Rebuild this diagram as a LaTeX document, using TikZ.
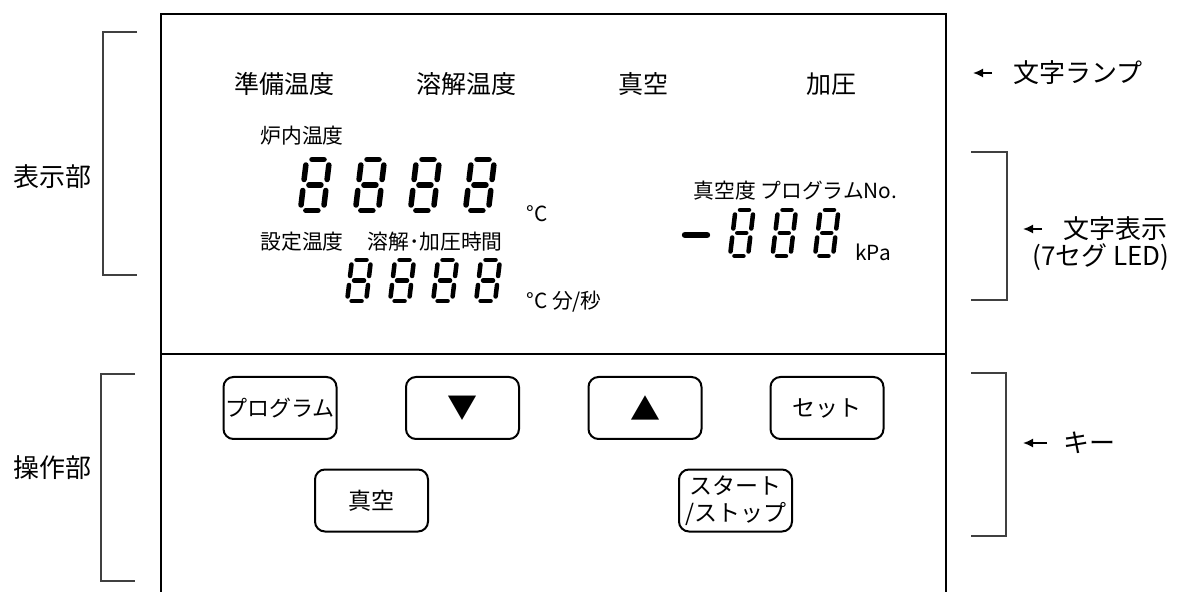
\documentclass[tikz,border=0pt]{standalone}
\usepackage{fontspec}
\setmainfont{Noto Sans CJK JP}
\usetikzlibrary{arrows.meta}

% one 7-segment digit: top-left x, top y, width, height, thickness
\newcommand{\segdigit}[5]{%
  \pgfmathsetmacro\sg{#5*1.0}%
  \pgfmathsetmacro\sw{#5*0.5}%
  \begin{scope}[shift={(#1,#2)}, xslant=0.12, line width=\sw pt, line cap=round]
    \draw (\sg,0) -- (#3-\sg,0);
    \draw (#3,\sg) -- (#3,#4/2-\sg);
    \draw (#3,#4/2+\sg) -- (#3,#4-\sg);
    \draw (\sg,#4) -- (#3-\sg,#4);
    \draw (0,#4/2+\sg) -- (0,#4-\sg);
    \draw (0,\sg) -- (0,#4/2-\sg);
    \draw (\sg,#4/2) -- (#3-\sg,#4/2);
  \end{scope}}

\begin{document}
\begin{tikzpicture}[x=0.5pt, y=-0.5pt,
    panelline/.style={line width=1pt},
    bracket/.style={line width=0.6pt, draw=black!75},
    keybox/.style={draw, line width=1pt, rounded corners=5pt,
      minimum width=56.5pt, minimum height=31pt, inner sep=0pt,
      font=\fontsize{11.5}{13.5}\selectfont, align=center},
    lamp/.style={inner sep=0pt, font=\fontsize{12.5}{14}\selectfont},
    dlabel/.style={inner sep=0pt, font=\fontsize{10.4}{12}\selectfont},
    side/.style={inner sep=0pt, font=\fontsize{13}{16}\selectfont},
    pointer/.style={-{Latex[length=5pt,width=4.5pt]}, line width=0.8pt}]

  \useasboundingbox (0,0) rectangle (1203,592);

  % panel
  \draw[panelline] (161,600) -- (161,14) -- (946,14) -- (946,600);
  \draw[panelline] (161,354) -- (946,354);

  % brackets left
  \draw[bracket] (137,32) -- (103,32) -- (103,275) -- (137,275);
  \draw[bracket] (135,374) -- (101,374) -- (101,581) -- (135,581);
  \node[side] (hyoji) at (52,177) {表示部};
  \node[side] (sosa) at (52,468) {操作部};

  % brackets right
  \draw[bracket] (971,152) -- (1007,152) -- (1007,300) -- (971,300);
  \draw[bracket] (971,373) -- (1006,373) -- (1006,536) -- (971,536);

  \node[side, anchor=west] (lamptxt) at (1013,73) {文字ランプ};
  \coordinate (lamptail) at (992,73);
  \coordinate (lamptip) at (973,73);
  \draw[pointer] (lamptail) -- (lamptip);

  \node[side, anchor=west] (segtxt) at (1063,229) {文字表示};
  \node[side, anchor=west] (ledtxt) at (1032,257) {(7セグ LED)};
  \coordinate (segtail) at (1042,229);
  \coordinate (segtip) at (1023,229);
  \draw[pointer] (segtail) -- (segtip);

  \node[side, anchor=west] (keytxt) at (1063,443) {キー};
  \coordinate (keytail) at (1047,443);
  \coordinate (keytip) at (1023,443);
  \draw[pointer] (keytail) -- (keytip);

  % lamps
  \node[lamp] (junbi) at (284,84) {準備温度};
  \node[lamp] (yokai) at (466,84) {溶解温度};
  \node[lamp] (shinku) at (643,84) {真空};
  \node[lamp] (kaatsu) at (831,84) {加圧};

  % display labels
  \node[dlabel, anchor=west] (ronai) at (260,136) {炉内温度};
  \node[dlabel, anchor=west] (settei) at (260,242) {設定温度};
  \node[dlabel, anchor=west] (jikan) at (367,242) {溶解･加圧時間};
  \node[dlabel, anchor=west] (unitc) at (526,214) {°C};
  \node[dlabel, anchor=west] (unitcm) at (526,302) {°C 分/秒};
  \node[dlabel, anchor=west] (vaclbl) at (693,191) {真空度 プログラムNo.};
  \node[dlabel, anchor=west] (kpa) at (855,252) {kPa};

  % digits
  \foreach \i in {0,...,3} \segdigit{306.5+55*\i}{159.5}{23}{51}{5.5};
  \foreach \i in {0,...,3} \segdigit{352+43*\i}{260}{19}{41}{4.5};
  \foreach \i in {0,...,2} \segdigit{735.5+42.5*\i}{210}{18}{46}{4.5};
  \draw[line width=3.2pt, line cap=round] (685,235) -- (707,235);

  % keys
  \node[keybox, font=\fontsize{11}{13}\selectfont] (prog) at (280,408) {プログラム};
  \node[keybox, font=\fontsize{15}{17}\selectfont] (down) at (462.5,408) {▼};
  \node[keybox, font=\fontsize{15}{17}\selectfont] (up) at (645,408) {▲};
  \node[keybox] (setkey) at (827,408) {セット};
  \node[keybox] (vac) at (371.5,500.5) {真空};
  \node[keybox] (start) at (735.5,500.5) {スタート\\/ストップ};
\end{tikzpicture}
\end{document}
